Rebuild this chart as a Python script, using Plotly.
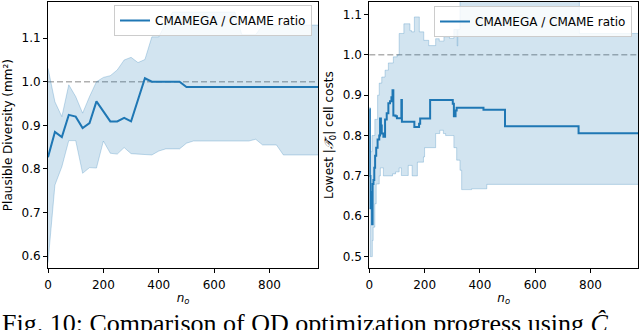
import plotly.graph_objects as go

# ---------------- data ----------------
# Left: plausible diversity ratio, sampled every 25 evaluations
left_n = list(range(0, 1000, 25))
left_mean = [0.827, 0.885, 0.873, 0.924, 0.920, 0.894, 0.905, 0.955, 0.932, 0.909,
             0.909, 0.917, 0.909, 0.958, 1.008, 1.000, 1.000, 1.000, 1.000, 1.000,
             0.988, 0.988, 0.988, 0.988, 0.988, 0.988, 0.988, 0.988, 0.988, 0.988,
             0.988, 0.988, 0.988, 0.988, 0.988, 0.988, 0.988, 0.988, 0.988, 0.988]
left_upper = [1.031, 0.954, 0.920, 0.993, 0.966, 0.928, 0.966, 1.000, 1.010, 1.014,
              1.027, 1.050, 1.056, 1.044, 1.051, 1.103, 1.103, 1.134, 1.160, 1.160,
              1.160, 1.160, 1.160, 1.160, 1.160, 1.160, 1.160, 1.160, 1.108, 1.108,
              1.108, 1.130, 1.130, 1.130, 1.130, 1.130, 1.130, 1.130, 1.130, 1.130]
left_lower = [0.585, 0.763, 0.805, 0.865, 0.865, 0.790, 0.803, 0.802, 0.864, 0.836,
              0.834, 0.849, 0.835, 0.834, 0.832, 0.832, 0.841, 0.846, 0.846, 0.846,
              0.859, 0.864, 0.864, 0.864, 0.864, 0.864, 0.864, 0.864, 0.864, 0.864,
              0.868, 0.855, 0.855, 0.855, 0.832, 0.832, 0.832, 0.832, 0.832, 0.832]

# Right: lowest cell costs ratio (step data at irregular evaluation counts)
right_n_mean = [0, 2, 4, 7, 10, 12, 15, 18, 21, 25, 30, 36, 39, 42, 45, 51, 57, 63, 69, 75,
                80, 84, 87, 95, 100, 116, 118, 163, 180, 184, 220, 302, 306, 312, 316,
                413, 491, 757, 975]
right_mean = [0.865, 0.700, 0.620, 0.660, 0.580, 0.680, 0.690, 0.720, 0.750, 0.770,
              0.790, 0.800, 0.842, 0.825, 0.805, 0.797, 0.840, 0.855, 0.880, 0.885,
              0.895, 0.912, 0.850, 0.848, 0.843, 0.888, 0.834, 0.821, 0.829, 0.842,
              0.888, 0.879, 0.848, 0.862, 0.869, 0.864, 0.823, 0.806, 0.806]

right_n_upper = [0, 3, 10, 20, 30, 36, 45, 57, 69, 87, 101, 108, 125, 147, 153, 163, 178,
                 181, 197, 215, 240, 253, 270, 290, 306, 318, 320, 328, 760, 975]
right_upper = [0.870, 0.760, 0.800, 0.840, 0.900, 0.930, 0.945, 0.962, 0.980, 0.995,
               1.000, 1.053, 1.077, 1.060, 1.057, 1.094, 1.094, 1.057, 1.036, 1.023,
               1.040, 1.034, 1.045, 1.041, 1.063, 1.022, 1.063, 1.150, 1.053, 1.053]

right_n_lower = [0, 3, 11, 14, 20, 25, 36, 40, 51, 84, 95, 108, 116, 141, 155, 174, 196,
                 200, 240, 255, 268, 276, 306, 316, 328, 334, 370, 425, 975]
right_lower = [0.620, 0.500, 0.540, 0.573, 0.631, 0.680, 0.700, 0.720, 0.700, 0.705,
               0.710, 0.720, 0.701, 0.726, 0.700, 0.734, 0.747, 0.770, 0.805, 0.813,
               0.805, 0.800, 0.770, 0.739, 0.714, 0.666, 0.668, 0.679, 0.679]

reference_ratio = 1.0
series_name = "CMAMEGA / CMAME ratio"
x_ticks = [0, 200, 400, 600, 800]
left_yticks = [0.6, 0.7, 0.8, 0.9, 1.0, 1.1]
right_yticks = [0.5, 0.6, 0.7, 0.8, 0.9, 1.0, 1.1]
left_ylabel = "Plausible Diversity (mm²)"
right_ylabel = "Lowest |<i>𝒯̂</i><sub>0</sub>| cell costs"
x_label = "<i>n</i><sub><i>o</i></sub>"
caption = "Fig. 10: Comparison of QD optimization progress using <i>Ĉ</i>"

# ---------------- styling ----------------
BLUE = "#1f77b4"
BAND = "rgba(31,119,180,0.2)"
BAND_EDGE = "rgba(31,119,180,0.25)"
FONT = "DejaVu Sans"

fig = go.Figure()

# Left panel
fig.add_trace(go.Scatter(x=left_n, y=left_lower, mode="lines", line=dict(color=BAND_EDGE, width=1),
                         showlegend=False, hoverinfo="skip", xaxis="x", yaxis="y"))
fig.add_trace(go.Scatter(x=left_n, y=left_upper, mode="lines", line=dict(color=BAND_EDGE, width=1),
                         fill="tonexty", fillcolor=BAND, showlegend=False, hoverinfo="skip",
                         xaxis="x", yaxis="y"))
fig.add_trace(go.Scatter(x=left_n, y=left_mean, mode="lines", line=dict(color=BLUE, width=2),
                         name=series_name, legend="legend", xaxis="x", yaxis="y"))

# Right panel
fig.add_trace(go.Scatter(x=right_n_lower, y=right_lower, mode="lines", line_shape="hv",
                         line=dict(color=BAND_EDGE, width=1), showlegend=False, hoverinfo="skip",
                         xaxis="x2", yaxis="y2"))
fig.add_trace(go.Scatter(x=right_n_upper, y=right_upper, mode="lines", line_shape="hv",
                         line=dict(color=BAND_EDGE, width=1), fill="tonexty", fillcolor=BAND,
                         showlegend=False, hoverinfo="skip", xaxis="x2", yaxis="y2"))
fig.add_trace(go.Scatter(x=right_n_mean, y=right_mean, mode="lines", line_shape="hv",
                         line=dict(color=BLUE, width=2), name=series_name, legend="legend2",
                         xaxis="x2", yaxis="y2"))

# reference lines
for xr, yr in (("x domain", "y"), ("x2 domain", "y2")):
    fig.add_shape(type="line", xref=xr, yref=yr, x0=0, x1=1, y0=reference_ratio, y1=reference_ratio,
                  line=dict(color="#b0b0b0", width=1.5, dash="6px,3px"), layer="below")

axis_common = dict(showline=True, mirror=True, linecolor="black", linewidth=1,
                   ticks="outside", ticklen=4, tickwidth=1, tickcolor="black",
                   showgrid=False, zeroline=False, automargin=False,
                   tickfont=dict(family=FONT, size=12, color="black"))

y_dom = [61.7 / 330, 328 / 330]
fig.update_layout(
    width=640, height=330,
    margin=dict(l=0, r=0, t=0, b=0),
    paper_bgcolor="white", plot_bgcolor="white",
    font=dict(family=FONT, size=12, color="black"),
    xaxis=dict(domain=[48 / 640, 318 / 640], range=[0, 975], tickvals=x_ticks, anchor="y",
               ticklabelstandoff=1,
               title=dict(text=x_label, standoff=2, font=dict(size=12)), **axis_common),
    yaxis=dict(domain=y_dom, range=[0.572, 1.183], tickvals=left_yticks, tickformat=".1f",
               anchor="x", title=dict(text=left_ylabel, standoff=6, font=dict(size=12)), **axis_common),
    xaxis2=dict(domain=[369.3 / 640, 638 / 640], range=[0, 972], tickvals=x_ticks, anchor="y2",
                ticklabelstandoff=1,
                title=dict(text=x_label, standoff=2, font=dict(size=12)), **axis_common),
    yaxis2=dict(domain=y_dom, range=[0.471, 1.131], tickvals=right_yticks, tickformat=".1f",
                anchor="x2", title=dict(text=right_ylabel, standoff=6, font=dict(size=12)), **axis_common),
    legend=dict(x=312 / 640, y=(330 - 5) / 330, xanchor="right", yanchor="top",
                bgcolor="rgba(255,255,255,0.8)", bordercolor="#cccccc", borderwidth=1,
                font=dict(family=FONT, size=12)),
    legend2=dict(x=632 / 640, y=(330 - 6) / 330, xanchor="right", yanchor="top",
                 bgcolor="rgba(255,255,255,0.8)", bordercolor="#cccccc", borderwidth=1,
                 font=dict(family=FONT, size=12)),
    showlegend=True,
)

fig.add_annotation(text=caption, xref="paper", yref="paper", x=0, y=(330 - 307) / 330,
                   xanchor="left", yanchor="top", showarrow=False,
                   font=dict(family="Liberation Serif", size=26, color="black"))

fig.write_html("out.html", config={"displayModeBar": False},
               post_script="document.body.style.margin='0px';")
